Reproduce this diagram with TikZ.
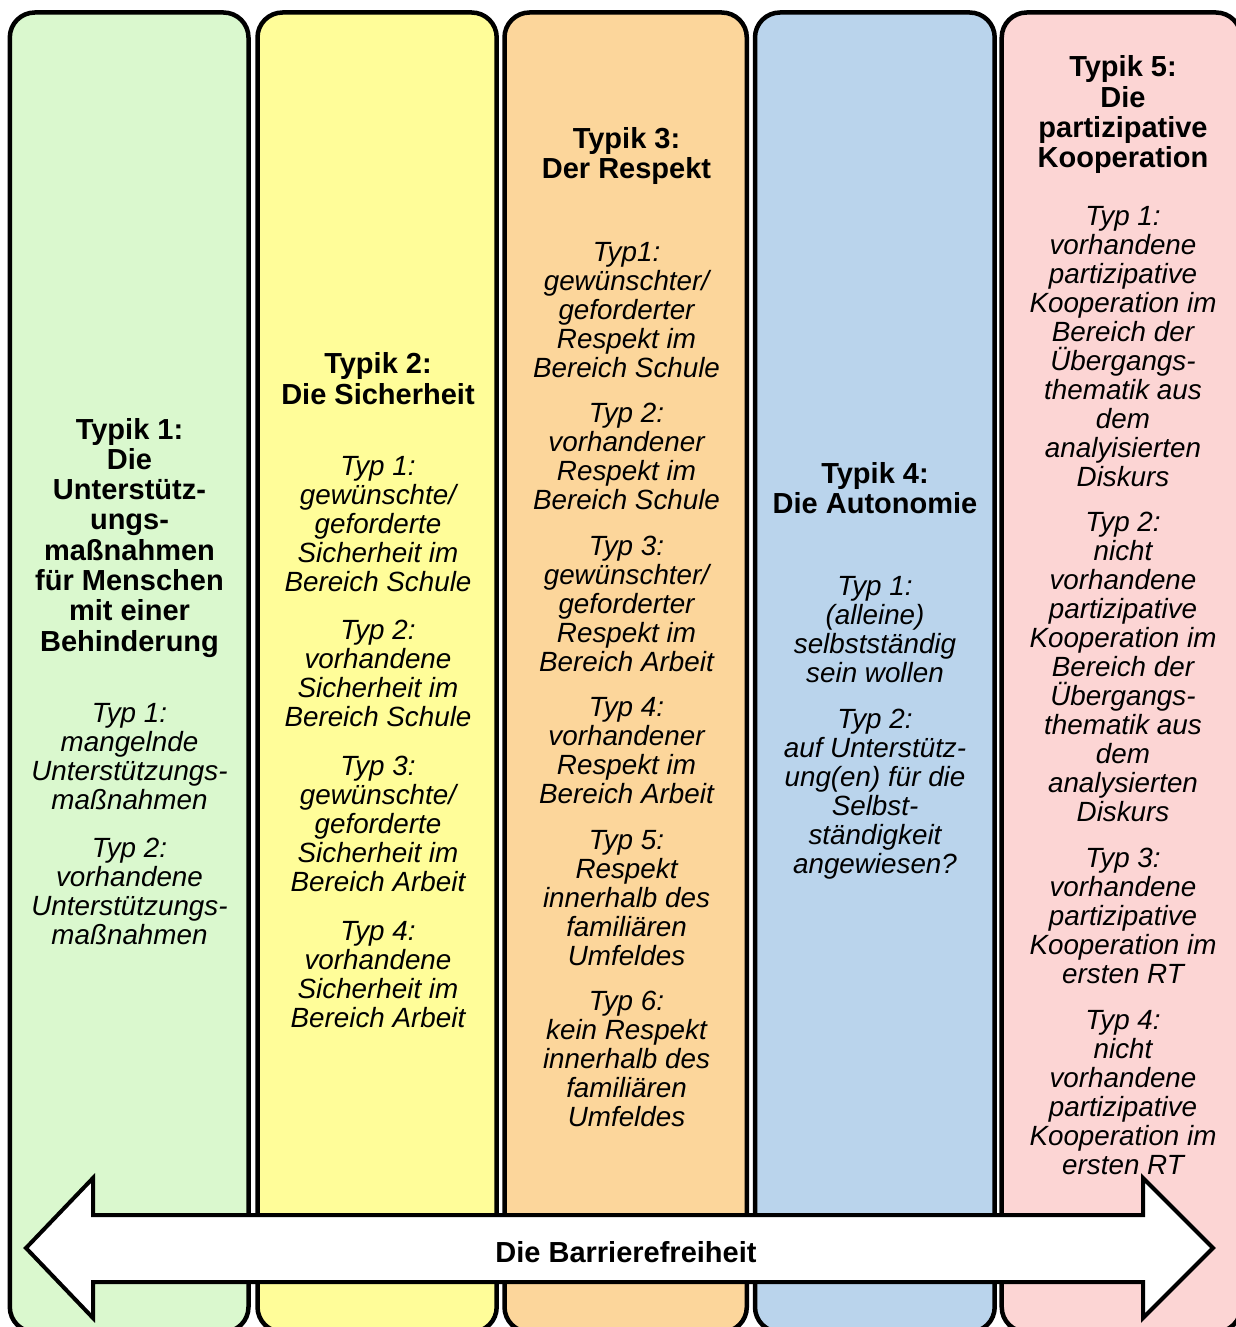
\documentclass[tikz,border=0pt]{standalone}
\usepackage{fontspec}
\setmainfont{Liberation Sans}

\definecolor{colA}{RGB}{218,248,206}
\definecolor{colB}{RGB}{255,253,153}
\definecolor{colC}{RGB}{252,214,155}
\definecolor{colD}{RGB}{186,212,236}
\definecolor{colE}{RGB}{252,213,212}

\tikzset{
  colbox/.style={draw=black, line width=4.5pt, rounded corners=25pt},
  headtext/.style={font=\bfseries\fontsize{29}{30}\selectfont, inner sep=0pt, anchor=base},
  bodytext/.style={font=\itshape\fontsize{27.8}{29}\selectfont, inner sep=0pt, anchor=base},
  barrier/.style={draw=black, line width=4pt, fill=white, line join=miter},
}

% one node per printed line: #1 name, #2 x, #3 first baseline, #4 line pitch, #5 style, #6 lines
\newcommand\linestack[6]{%
  \foreach \t [count=\i] in {#6} {
    \node[#5] (#1-\i) at (#2, {#3+(\i-1)*#4}) {\t};
  }%
}

\begin{document}
\begin{tikzpicture}[x=1pt, y=-1pt]
  \useasboundingbox (0,0) rectangle (1236,1327);
  \fill[white] (0,0) rectangle (1236,1327);
  \clip (0,0) rectangle (1236,1327);

  % the five columns
  \draw[colbox, fill=colA] (9.8,12.5)    rectangle (248.5,1332);
  \draw[colbox, fill=colB] (257.5,12.5)  rectangle (496.7,1332);
  \draw[colbox, fill=colC] (504.5,12.5)  rectangle (746.8,1332);
  \draw[colbox, fill=colD] (755,12.5)    rectangle (994.7,1332);
  \draw[colbox, fill=colE] (1001.7,12.5) rectangle (1241,1332);

  % column 1
  \linestack{ah}{129.5}{439}{30.3}{headtext}{Typik 1:,Die,Unterstütz-,ungs-,maßnahmen,für Menschen,mit einer,Behinderung}
  \linestack{aa}{129.5}{722}{29}{bodytext}{Typ 1:,mangelnde,Unterstützungs-,maßnahmen}
  \linestack{ab}{129.5}{857}{29}{bodytext}{Typ 2:,vorhandene,Unterstützungs-,maßnahmen}

  % column 2
  \linestack{bh}{378}{373}{31}{headtext}{Typik 2:,Die Sicherheit}
  \linestack{ba}{378}{475}{29}{bodytext}{Typ 1:,gewünschte/,geforderte,Sicherheit im,Bereich Schule}
  \linestack{bb}{378}{639}{29}{bodytext}{Typ 2:,vorhandene,Sicherheit im,Bereich Schule}
  \linestack{bc}{378}{775}{29}{bodytext}{Typ 3:,gewünschte/,geforderte,Sicherheit im,Bereich Arbeit}
  \linestack{bd}{378}{940}{29}{bodytext}{Typ 4:,vorhandene,Sicherheit im,Bereich Arbeit}

  % column 3
  \linestack{ch}{626.5}{148}{30}{headtext}{Typik 3:,Der Respekt}
  \linestack{ca}{626.5}{261}{29}{bodytext}{Typ1:,gewünschter/,geforderter,Respekt im,Bereich Schule}
  \linestack{cb}{626.5}{422}{29}{bodytext}{Typ 2:,vorhandener,Respekt im,Bereich Schule}
  \linestack{cc}{626.5}{555}{29}{bodytext}{Typ 3:,gewünschter/,geforderter,Respekt im,Bereich Arbeit}
  \linestack{cd}{626.5}{716}{29}{bodytext}{Typ 4:,vorhandener,Respekt im,Bereich Arbeit}
  \linestack{ce}{626.5}{849}{29}{bodytext}{Typ 5:,Respekt,innerhalb des,familiären,Umfeldes}
  \linestack{cf}{626.5}{1010}{29}{bodytext}{Typ 6:,kein Respekt,innerhalb des,familiären,Umfeldes}

  % column 4
  \linestack{dh}{875}{483}{30}{headtext}{Typik 4:,Die Autonomie}
  \linestack{da}{875}{595}{29}{bodytext}{Typ 1:,{(alleine)},selbstständig,sein wollen}
  \linestack{db}{875}{728}{29}{bodytext}{Typ 2:,auf Unterstütz-,{ung(en) für die},Selbst-,ständigkeit,angewiesen?}

  % column 5
  \linestack{eh}{1123}{77}{30.3}{headtext}{Typik 5:,Die,partizipative,Kooperation}
  \linestack{ea}{1123}{225}{29}{bodytext}{Typ 1:,vorhandene,partizipative,Kooperation im,Bereich der,Übergangs-,thematik aus,dem,analyisierten,Diskurs}
  \linestack{eb}{1123}{531}{29}{bodytext}{Typ 2:,nicht,vorhandene,partizipative,Kooperation im,Bereich der,Übergangs-,thematik aus,dem,analysierten,Diskurs}
  \linestack{ec}{1123}{867}{29}{bodytext}{Typ 3:,vorhandene,partizipative,Kooperation im,ersten RT}
  \linestack{ed}{1123}{1029}{29}{bodytext}{Typ 4:,nicht,vorhandene,partizipative,Kooperation im,ersten RT}

  % double-headed block arrow across all columns
  \draw[barrier] (26,1248) -- (93,1178) -- (93,1215) -- (1143,1215) -- (1143,1178)
    -- (1213,1248) -- (1143,1318) -- (1143,1282) -- (93,1282) -- (93,1318) -- cycle;
  \node[font=\bfseries\fontsize{29}{30}\selectfont, inner sep=0pt] (barrier) at (626,1252) {Die Barrierefreiheit};
\end{tikzpicture}
\end{document}
